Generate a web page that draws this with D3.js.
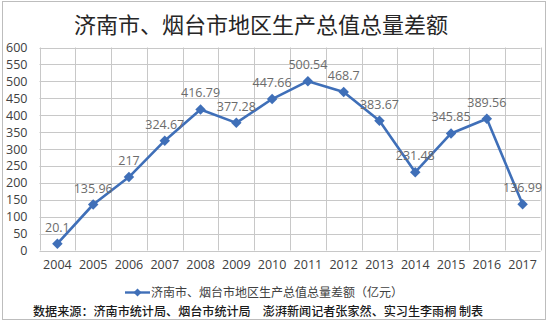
<!DOCTYPE html>
<html>
<head>
<meta charset="utf-8">
<script src="https://cdn.jsdelivr.net/npm/d3@7"></script>
<style>
  html, body { margin: 0; padding: 0; background: #fff; }
  svg { display: block; }
</style>
</head>
<body>
<svg id="chart" width="550" height="322"></svg>
<script>
// GDP gap between Jinan and Yantai (100 million yuan)
const years = ["2004","2005","2006","2007","2008","2009","2010","2011","2012","2013","2014","2015","2016","2017"];
const gapValues = [20.1, 135.96, 217, 324.67, 416.79, 377.28, 447.66, 500.54, 468.7, 383.67, 231.48, 345.85, 389.56, 136.99];
const yTicks = [0, 50, 100, 150, 200, 250, 300, 350, 400, 450, 500, 550, 600];

const titleText = "济南市、烟台市地区生产总值总量差额";
const legendText = "济南市、烟台市地区生产总值总量差额（亿元）";
const sourceText = "数据来源：济南市统计局、烟台市统计局　澎湃新闻记者张家然、实习生李雨桐 制表";

const cjk = "'Noto Sans CJK SC', 'Noto Sans', sans-serif";
const num = "'Open Sans', 'Noto Sans', sans-serif";
const lineColor = "#3f6fb8";

const svg = d3.select("#chart");

// outer frame
svg.append("rect")
  .attr("x", 2.5).attr("y", 1.5).attr("width", 543).attr("height", 318)
  .attr("fill", "none").attr("stroke", "#bdbdbd").attr("stroke-width", 1);

const plot = { left: 39.5, right: 540.5, top: 47.5, bottom: 250.5 };

const x = d3.scaleBand().domain(years).range([plot.left, plot.right]).padding(0);
const y = d3.scaleLinear().domain([0, 600]).range([plot.bottom, plot.top]);

// horizontal gridlines
svg.append("g").selectAll("line").data(yTicks).join("line")
  .attr("x1", plot.left).attr("x2", plot.right)
  .attr("y1", d => Math.round(y(d)) + 0.5).attr("y2", d => Math.round(y(d)) + 0.5)
  .attr("stroke", "#c8c8c8").attr("stroke-width", 1);

// vertical gridlines at category boundaries
const bounds = years.map(d => x(d)).concat([x(years[years.length - 1]) + x.bandwidth()]);
svg.append("g").selectAll("line").data(bounds).join("line")
  .attr("x1", d => Math.round(d) + 0.5).attr("x2", d => Math.round(d) + 0.5)
  .attr("y1", plot.top).attr("y2", plot.bottom)
  .attr("stroke", "#c8c8c8").attr("stroke-width", 1);

// y axis labels
const yAxis = d3.axisLeft(y).tickValues(yTicks).tickSize(0).tickPadding(12);
const yg = svg.append("g").attr("transform", `translate(${plot.left},0)`).call(yAxis);
yg.select(".domain").remove();
yg.selectAll("text").attr("font-family", num).attr("font-size", 12.5).attr("fill", "#404040");

// x axis labels
const xAxis = d3.axisBottom(x).tickSize(0).tickPadding(10);
const xg = svg.append("g").attr("transform", `translate(0,${plot.bottom})`).call(xAxis);
xg.select(".domain").remove();
xg.selectAll("text").attr("font-family", num).attr("font-size", 12.5).attr("fill", "#404040");

// series line
const cx = d => x(d) + x.bandwidth() / 2;
const line = d3.line().x((d, i) => cx(years[i])).y(d => y(d));
svg.append("path").datum(gapValues)
  .attr("d", line).attr("fill", "none")
  .attr("stroke", lineColor).attr("stroke-width", 2.6).attr("stroke-linejoin", "round");

// diamond markers
const diamond = d3.symbol().type(d3.symbolDiamond2).size(70);
svg.append("g").selectAll("path").data(gapValues).join("path")
  .attr("d", diamond)
  .attr("transform", (d, i) => `translate(${cx(years[i])},${y(d)})`)
  .attr("fill", lineColor);

// value labels
svg.append("g").selectAll("text").data(gapValues).join("text")
  .attr("x", (d, i) => cx(years[i]))
  .attr("y", d => y(d) - 12)
  .attr("text-anchor", "middle")
  .attr("font-family", num).attr("font-size", 12.5).attr("fill", "#6b6b6b")
  .text(d => d);

// title
svg.append("text")
  .attr("x", 261).attr("y", 33)
  .attr("text-anchor", "middle")
  .attr("font-family", cjk).attr("font-size", 22).attr("fill", "#262626")
  .text(titleText);

// legend
svg.append("line")
  .attr("x1", 125).attr("x2", 150).attr("y1", 292.5).attr("y2", 292.5)
  .attr("stroke", lineColor).attr("stroke-width", 2.4);
svg.append("path")
  .attr("d", d3.symbol().type(d3.symbolDiamond2).size(40))
  .attr("transform", "translate(137.5,292.5)")
  .attr("fill", lineColor);
svg.append("text")
  .attr("x", 151).attr("y", 297)
  .attr("font-family", cjk).attr("font-size", 12).attr("fill", "#404040")
  .text(legendText);

// source note
svg.append("text")
  .attr("x", 33).attr("y", 316)
  .attr("font-family", cjk).attr("font-size", 12.1).attr("font-weight", 500).attr("fill", "#1a1a1a")
  .text(sourceText);
</script>
</body>
</html>
